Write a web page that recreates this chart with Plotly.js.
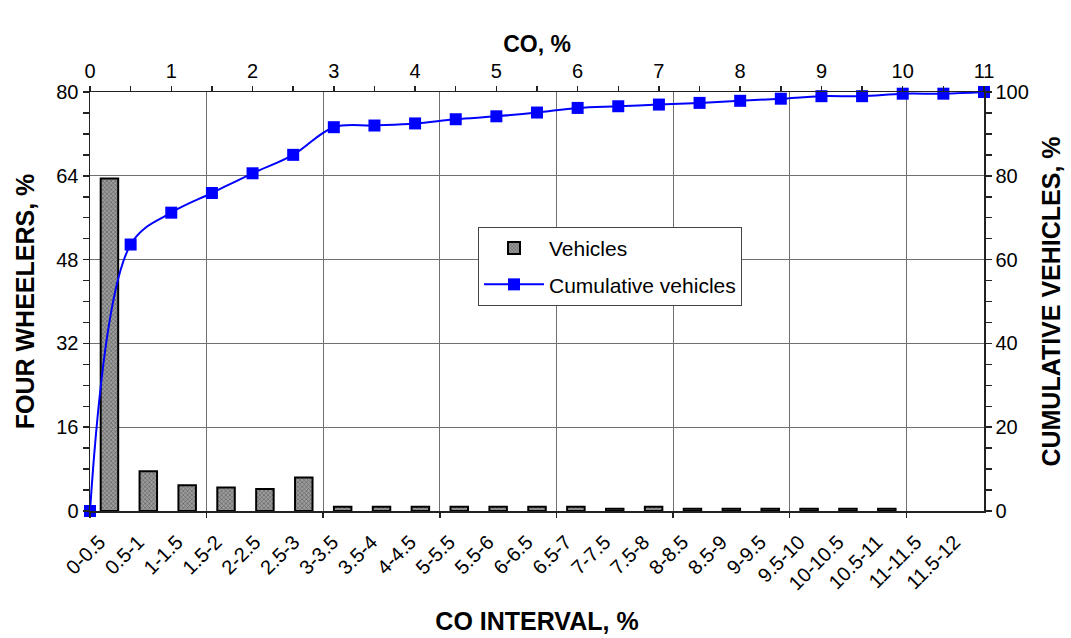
<!DOCTYPE html>
<html>
<head>
<meta charset="utf-8">
<script src="https://cdn.plot.ly/plotly-3.0.1.min.js"></script>
<style>
  html, body { margin: 0; padding: 0; background: #ffffff; }
  #chart { width: 1071px; height: 638px; }
</style>
</head>
<body>
<div id="chart"></div>
<script>
// CO interval categories (bottom axis)
const intervals = ['0-0.5', '0.5-1', '1-1.5', '1.5-2', '2-2.5', '2.5-3', '3-3.5', '3.5-4',
  '4-4.5', '5-5.5', '5.5-6', '6-6.5', '6.5-7', '7-7.5', '7.5-8', '8-8.5', '8.5-9',
  '9-9.5', '9.5-10', '10-10.5', '10.5-11', '11-11.5', '11.5-12'];
// Four wheelers, % (bars, left axis)
const vehicles = [63.5, 7.6, 4.9, 4.5, 4.2, 6.4, 0.8, 0.8, 0.8, 0.8, 0.8, 0.8, 0.8,
  0.45, 0.8, 0.45, 0.45, 0.45, 0.45, 0.45, 0.45, null, null];
// CO, % (top axis) and cumulative vehicles, % (right axis)
const coLevels = [0, 0.5, 1, 1.5, 2, 2.5, 3, 3.5, 4, 4.5, 5, 5.5, 6, 6.5, 7, 7.5, 8,
  8.5, 9, 9.5, 10, 10.5, 11];
const cumulative = [0, 63.6, 71.2, 75.9, 80.6, 85.0, 91.6, 92.0, 92.5, 93.5, 94.2, 95.1,
  96.2, 96.6, 97.0, 97.4, 97.9, 98.4, 99.0, 99.0, 99.6, 99.6, 100];

const FONT = 'Liberation Sans, Arial, Helvetica, sans-serif';
const GRID = '#707070';
const LINE = '#222222';

const traces = [
  {
    type: 'bar',
    name: 'Vehicles',
    x: intervals,
    y: vehicles,
    xaxis: 'x',
    yaxis: 'y',
    width: 0.45,
    marker: {
      color: '#8a8a8a',
      pattern: { shape: 'x', size: 3, solidity: 0.35, fgcolor: '#5a5a5a', bgcolor: '#9c9c9c', fillmode: 'replace' },
      line: { color: '#000000', width: 2 }
    },
    legendgroup: 'a',
    hoverinfo: 'x+y'
  },
  {
    // empty helper trace so the category-boundary grid axis (xaxis3) is drawn
    type: 'scatter',
    mode: 'none',
    x: [],
    y: [],
    xaxis: 'x3',
    yaxis: 'y',
    showlegend: false,
    hoverinfo: 'skip'
  },
  {
    type: 'scatter',
    mode: 'lines+markers',
    name: 'Cumulative vehicles',
    x: coLevels,
    y: cumulative,
    xaxis: 'x2',
    yaxis: 'y2',
    line: { color: '#0000ff', width: 2, shape: 'spline', smoothing: 1 },
    marker: { symbol: 'square', size: 12, color: '#0000ff' },
    cliponaxis: false,
    legendgroup: 'b'
  }
];

const layout = {
  width: 1071,
  height: 638,
  margin: { l: 90, r: 87, t: 92, b: 127, pad: 0 },
  paper_bgcolor: '#ffffff',
  plot_bgcolor: '#ffffff',
  font: { family: FONT, size: 20, color: '#000000' },
  showlegend: true,
  legend: {
    x: 0.434, y: 0.678, xanchor: 'left', yanchor: 'top',
    bgcolor: '#ffffff', bordercolor: '#444444', borderwidth: 1,
    font: { family: FONT, size: 21, color: '#000000' },
    traceorder: 'grouped', tracegroupgap: 6,
    itemwidth: 60
  },
  xaxis: {
    type: 'category',
    categoryorder: 'array',
    categoryarray: intervals,
    range: [-0.5, intervals.length - 0.5],
    tickangle: -45,
    ticks: '',
    ticklabelstandoff: 10,
    ticklabelshift: -10,
    showgrid: false,
    zeroline: false,
    showline: true, linecolor: LINE, linewidth: 1.5,
    tickfont: { family: FONT, size: 20 },
    title: { text: 'CO INTERVAL, %', font: { family: FONT, size: 25, weight: 'bold' }, standoff: 19 },
    fixedrange: true
  },
  xaxis3: {
    overlaying: 'x',
    side: 'bottom',
    anchor: 'y',
    type: 'linear',
    range: [0, intervals.length],
    tick0: 0, dtick: 3,
    showgrid: true, gridcolor: GRID, gridwidth: 1,
    ticks: 'outside', ticklen: 6, tickcolor: LINE, tickwidth: 1.5,
    showticklabels: false,
    showline: false, zeroline: false,
    fixedrange: true
  },
  xaxis2: {
    overlaying: 'x',
    side: 'top',
    anchor: 'y',
    type: 'linear',
    range: [0, 11],
    tick0: 0, dtick: 1,
    ticks: 'outside', ticklen: 5, tickcolor: LINE, tickwidth: 1.5,
    minor: { dtick: 0.5, ticks: 'outside', ticklen: 5, tickcolor: LINE, tickwidth: 1.5, showgrid: false },
    showgrid: false, zeroline: false,
    showline: true, linecolor: LINE, linewidth: 1.5,
    tickfont: { family: FONT, size: 20 },
    title: { text: 'CO, %', font: { family: FONT, size: 23, weight: 'bold' }, standoff: 0 },
    fixedrange: true
  },
  yaxis: {
    range: [0, 80],
    tick0: 0, dtick: 16,
    ticks: 'outside', ticklen: 6, tickcolor: LINE, tickwidth: 1.5,
    minor: { dtick: 4, ticks: 'outside', ticklen: 6, tickcolor: LINE, tickwidth: 1.5, showgrid: false },
    showgrid: true, gridcolor: GRID, gridwidth: 1,
    zeroline: false,
    showline: true, linecolor: LINE, linewidth: 1.5,
    tickfont: { family: FONT, size: 20 },
    title: { text: 'FOUR WHEELERS, %', font: { family: FONT, size: 25, weight: 'bold' }, standoff: 14 },
    fixedrange: true
  },
  yaxis2: {
    overlaying: 'y',
    side: 'right',
    anchor: 'x',
    range: [0, 100],
    tick0: 0, dtick: 20,
    ticks: 'outside', ticklen: 6, tickcolor: LINE, tickwidth: 1.5,
    minor: { dtick: 5, ticks: 'outside', ticklen: 6, tickcolor: LINE, tickwidth: 1.5, showgrid: false },
    showgrid: false, zeroline: false,
    showline: true, linecolor: LINE, linewidth: 1.5,
    tickfont: { family: FONT, size: 20 },
    title: { text: 'CUMULATIVE VEHICLES, %', font: { family: FONT, size: 25, weight: 'bold' }, standoff: 14 },
    fixedrange: true
  }
};

Plotly.newPlot('chart', traces, layout, { displayModeBar: false, staticPlot: true });
</script>
</body>
</html>
